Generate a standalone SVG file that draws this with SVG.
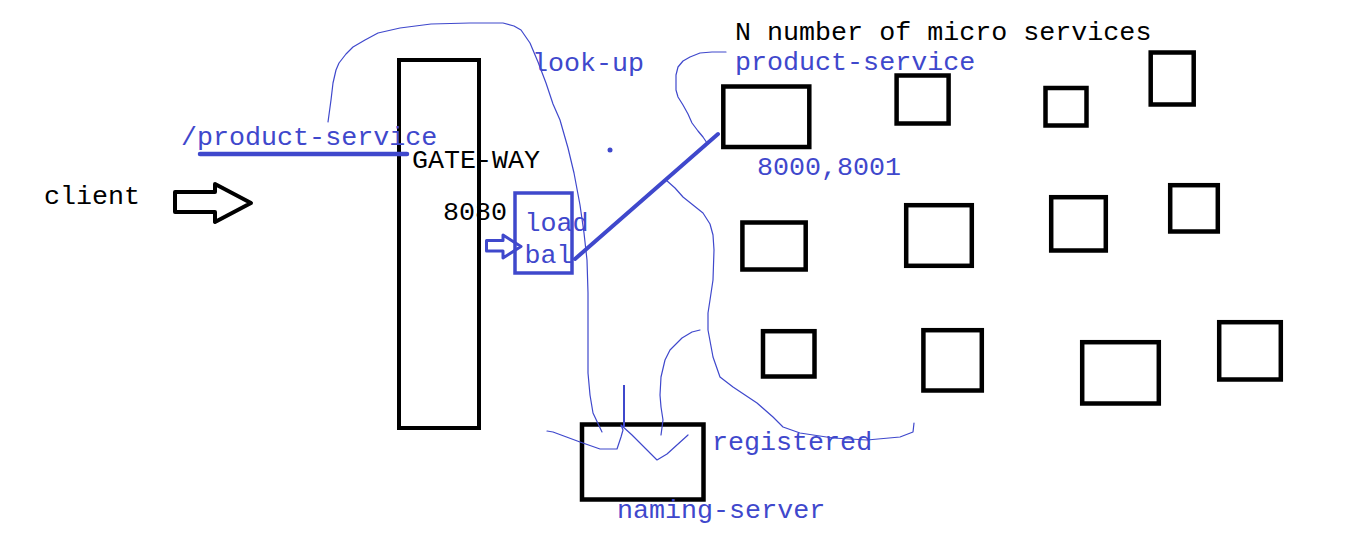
<svg xmlns="http://www.w3.org/2000/svg" width="1349" height="544" viewBox="0 0 1349 544">
<style>
.t{font-family:"Liberation Mono","DejaVu Sans Mono",monospace;font-size:26.7px}
.k{fill:#000}
.b{fill:#3F48CC}
.box{fill:none;stroke:#000;stroke-width:4.5}
.thin{fill:none;stroke:#3F48CC;stroke-width:1.2;stroke-linejoin:round;stroke-linecap:round}
.thick{fill:none;stroke:#3F48CC;stroke-width:4.5;stroke-linecap:round;stroke-linejoin:round}
</style>
<rect width="1349" height="544" fill="#fff"/>

<g id="client">
<text class="t k" x="44" y="204">client</text>
</g>
<g id="client-arrow">
<polygon points="175,192 215,192 215,184 251,203 215,222 215,212 175,212" fill="none" stroke="#000" stroke-width="4" stroke-linejoin="round"/>
</g>

<g id="gateway">
<rect class="box" x="399" y="60" width="80" height="368" style="stroke-width:4"/>
<text class="t k" x="412" y="168">GATE-WAY</text>
<text class="t k" x="443" y="220">8080</text>
</g>

<g id="load-balancer">
<rect x="515" y="193" width="57" height="80" fill="none" stroke="#3F48CC" stroke-width="3.5"/>
<text class="t b" x="524.5" y="231">load</text>
<text class="t b" x="524.5" y="263">bal</text>
</g>

<g id="naming-server">
<rect class="box" x="582" y="424.5" width="121.5" height="75"/>
<text class="t b" x="617" y="518">naming-server</text>
</g>

<g id="microservices">
<rect class="box" x="723.3" y="86.5" width="86" height="60.5"/>
<rect class="box" x="896.6" y="75.5" width="52" height="48"/>
<rect class="box" x="1045.5" y="88" width="41" height="37.5"/>
<rect class="box" x="1150.7" y="52.5" width="43" height="52"/>
<rect class="box" x="742.4" y="222.5" width="63.3" height="47"/>
<rect class="box" x="906.2" y="205.2" width="65.6" height="60.6"/>
<rect class="box" x="1051.2" y="197.2" width="54.6" height="53.3"/>
<rect class="box" x="1170.2" y="185.2" width="47.6" height="46.3"/>
<rect class="box" x="763" y="331.2" width="51.5" height="45.3"/>
<rect class="box" x="923.4" y="330.2" width="58.4" height="60.3"/>
<rect class="box" x="1082.2" y="342.2" width="76.6" height="61.3"/>
<rect class="box" x="1219.2" y="322.2" width="61.6" height="57.3"/>
</g>

<g id="labels">
<text class="t k" x="735" y="40">N number of micro services</text>
<text class="t b" x="735" y="70">product-service</text>
<text class="t b" x="532" y="71">look-up</text>
<text class="t b" x="181" y="145">/product-service</text>
<text class="t b" x="757" y="175">8000,8001</text>
<text class="t b" x="712" y="450">registered</text>
</g>

<g id="connectors">
<line class="thick" x1="200" y1="154" x2="407" y2="154"/>
<polygon points="486.5,240.5 503,240.5 503,235 521,246.5 503,258 503,251 486.5,251" fill="none" stroke="#3F48CC" stroke-width="3" stroke-linejoin="round"/>
<line class="thick" x1="575" y1="259" x2="718" y2="134" style="stroke-width:4"/>
<polyline class="thin" points="328,122 331,100 333,83 336,70 339,63 346,54 353,47 365,40 378,33 400,28 431,24 470,23 503,23 514,26 521,30 530,43 538,62 546,83 553,104 560,120 568,148 574,173 580,205 584,233 587,260 588,293 588,340 588,373 590,395 593,413 602,432"/>
<polyline class="thin" points="726,52 712,52 700,53 690,57 683,61 678,67 676,75 676,90 678,97 683,105 688,114 692,123 698,131 703,137 707,143"/>
<polyline class="thin" points="666,180 675,188 683,197 693,205 703,213 710,224 713,235 714,250 713,280 710,300 708,313 708,330 713,357 720,377 733,387 745,395 757,403 773,417 783,427 800,433 833,438 867,440 900,437 913,432 914,423"/>
<polyline class="thin" points="700,330 692,332 682,338 670,350 665,360 661,377 660,395 661,407 663,420 661,435"/>
<polyline class="thin" points="547,431 553,432 580,442 600,449 617,449 621,437 623,430 621,425 632,435 647,450 657,460 667,454 688,435"/>
<line x1="624" y1="385" x2="624" y2="427" stroke="#3F48CC" stroke-width="2"/>
<circle cx="610" cy="150" r="2.5" fill="#3F48CC"/>
</g>
</svg>
